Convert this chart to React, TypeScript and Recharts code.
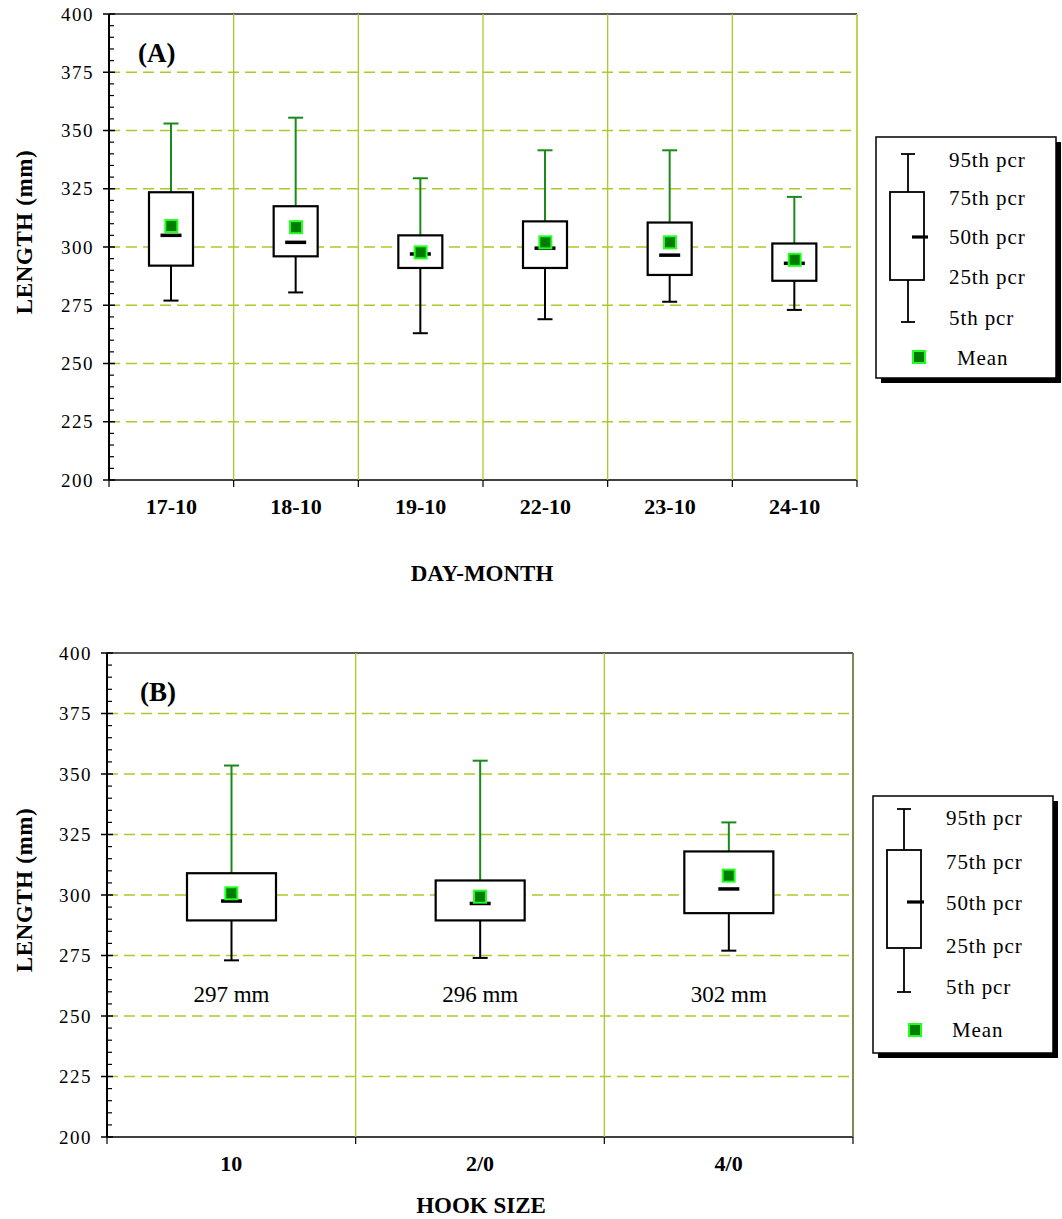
import React from 'react';
import {
  ComposedChart,
  Bar,
  Scatter,
  XAxis,
  YAxis,
  CartesianGrid,
  ReferenceLine,
} from 'recharts';

// ---------- Panel A: by day-month ----------
const DATES = ['17-10', '18-10', '19-10', '22-10', '23-10', '24-10'];
const A_P5 = [277, 280.5, 263, 269, 276.5, 273];
const A_Q1 = [292, 296, 291, 291, 288, 285.5];
const A_MEDIAN = [305, 302, 297, 299.5, 296.5, 293];
const A_Q3 = [323.5, 317.5, 305, 311, 310.5, 301.5];
const A_P95 = [353, 355.5, 329.5, 341.5, 341.5, 321.5];
const A_MEAN = [309, 308.5, 297.7, 302, 302, 294.5];

// ---------- Panel B: by hook size ----------
const HOOKS = ['10', '2/0', '4/0'];
const B_P5 = [273, 274, 277];
const B_Q1 = [289.5, 289.5, 292.5];
const B_MEDIAN = [297.5, 296.5, 302.5];
const B_Q3 = [309, 306, 318];
const B_P95 = [353.5, 355.5, 330];
const B_MEAN = [300.7, 299.3, 308];
const B_MEDIAN_LABELS = ['297 mm', '296 mm', '302 mm'];

// ---------- Axis ticks ----------
const Y_DOMAIN: [number, number] = [200, 400];
const Y_MAJOR = [200, 225, 250, 275, 300, 325, 350, 375, 400];
const Y_GRID = [225, 250, 275, 300, 325, 350, 375];
const Y_MINOR_STEP = 5;

const LEGEND_LABELS = ['95th pcr', '75th pcr', '50th pcr', '25th pcr', '5th pcr', 'Mean'];

const SERIF = '"Liberation Serif", "Times New Roman", Times, serif';
const WHISKER_UP = '#1a8a1a';
const GRID_COLOR = '#a8cc2a';
const MEAN_FILL = '#007c00';
const MEAN_EDGE = '#22ff22';

const Y_TICKS: number[] = [];
for (let v = Y_DOMAIN[0]; v <= Y_DOMAIN[1]; v += Y_MINOR_STEP) Y_TICKS.push(v);

function buildRows(
  names: string[],
  p5: number[],
  q1: number[],
  med: number[],
  q3: number[],
  p95: number[],
  mean: number[],
  labels?: string[]
) {
  return names.map((name, i) => ({
    name,
    p5: p5[i],
    q1: q1[i],
    med: med[i],
    q3: q3[i],
    p95: p95[i],
    mean: mean[i],
    label: labels ? labels[i] : undefined,
  }));
}

const rowsA = buildRows(DATES, A_P5, A_Q1, A_MEDIAN, A_Q3, A_P95, A_MEAN);
const rowsB = buildRows(HOOKS, B_P5, B_Q1, B_MEDIAN, B_Q3, B_P95, B_MEAN, B_MEDIAN_LABELS);

const makeBoxShape = (labelValue?: number) => (props: any) => {
  const { x, y, width, height, payload } = props;
  if (!payload || x == null || y == null) return null;
  const top = Math.min(y, y + height);
  const h = Math.abs(height);
  const span = payload.p95 - payload.p5;
  const ppu = span > 0 ? h / span : 0;
  const Y = (v: number) => top + (payload.p95 - v) * ppu;
  const cx = x + width / 2;
  const cap = 7.5;
  const medHalf = 10.5;
  return (
    <g>
      <line x1={cx} x2={cx} y1={Y(payload.p95)} y2={Y(payload.q3)} stroke={WHISKER_UP} strokeWidth={2} />
      <line x1={cx - cap} x2={cx + cap} y1={Y(payload.p95)} y2={Y(payload.p95)} stroke={WHISKER_UP} strokeWidth={2} />
      <line x1={cx} x2={cx} y1={Y(payload.q1)} y2={Y(payload.p5)} stroke="#000" strokeWidth={2} />
      <line x1={cx - cap} x2={cx + cap} y1={Y(payload.p5)} y2={Y(payload.p5)} stroke="#000" strokeWidth={2} />
      <rect
        x={x}
        y={Y(payload.q3)}
        width={width}
        height={Y(payload.q1) - Y(payload.q3)}
        fill="#fff"
        stroke="#000"
        strokeWidth={2.2}
      />
      <line x1={cx - medHalf} x2={cx + medHalf} y1={Y(payload.med)} y2={Y(payload.med)} stroke="#000" strokeWidth={3.5} />
      {labelValue != null && payload.label ? (
        <text
          x={cx}
          y={Y(labelValue)}
          textAnchor="middle"
          dominantBaseline="central"
          fontSize={23}
          fontFamily={SERIF}
          fill="#000"
        >
          {payload.label}
        </text>
      ) : null}
    </g>
  );
};

const MeanShape = (props: any) => {
  const { cx, cy } = props;
  if (cx == null || cy == null) return null;
  return <rect x={cx - 6} y={cy - 6} width={12} height={12} fill={MEAN_FILL} stroke={MEAN_EDGE} strokeWidth={2} />;
};

const YTick = (props: any) => {
  const { x, y, payload } = props;
  const v = payload.value;
  const major = v % 25 === 0;
  return (
    <g>
      {major ? (
        <line x1={x - 6} x2={x + 6} y1={y} y2={y} stroke="#000" strokeWidth={1.5} />
      ) : (
        <line x1={x} x2={x + 5} y1={y} y2={y} stroke="#000" strokeWidth={1.2} />
      )}
      {major ? (
        <text
          x={x - 15}
          y={y}
          textAnchor="end"
          dominantBaseline="central"
          fontSize={19}
          letterSpacing={1.5}
          fontFamily={SERIF}
          fill="#000"
        >
          {v}
        </text>
      ) : null}
    </g>
  );
};

const makeXTick = (count: number, bandFallback: number, plotHeight: number, rightBorder: string) => (props: any) => {
  const { x, y, payload, index } = props;
  const half =
    payload && typeof payload.offset === 'number' && payload.offset > 0 ? payload.offset : bandFallback / 2;
  return (
    <g>
      {index > 0 ? (
        <line x1={x - half} x2={x - half} y1={y} y2={y - plotHeight} stroke={GRID_COLOR} strokeWidth={1.3} />
      ) : null}
      {index === count - 1 ? (
        <line x1={x + half} x2={x + half} y1={y} y2={y - plotHeight} stroke={rightBorder} strokeWidth={1.6} />
      ) : null}
      <line x1={x - half} x2={x - half} y1={y} y2={y + 7} stroke="#000" strokeWidth={1.2} />
      {index === count - 1 ? (
        <line x1={x + half} x2={x + half} y1={y} y2={y + 7} stroke="#000" strokeWidth={1.2} />
      ) : null}
      <text
        x={x}
        y={y + 26}
        textAnchor="middle"
        dominantBaseline="central"
        fontSize={22}
        fontWeight="bold"
        fontFamily={SERIF}
        fill="#000"
      >
        {payload.value}
      </text>
    </g>
  );
};

type PanelProps = {
  rows: any[];
  top: number;
  width: number;
  height: number;
  margin: { top: number; right: number; bottom: number; left: number };
  yAxisWidth: number;
  xAxisHeight: number;
  barSize: number;
  labelValue?: number;
  rightBorder: string;
};

function BoxPanel(p: PanelProps) {
  const n = p.rows.length;
  const plotWidth = p.width - p.margin.left - p.margin.right - p.yAxisWidth;
  const plotHeight = p.height - p.margin.top - p.margin.bottom - p.xAxisHeight;
  const band = plotWidth / n;
  return (
    <div style={{ position: 'absolute', left: 0, top: p.top, width: p.width, height: p.height }}>
      <ComposedChart width={p.width} height={p.height} data={p.rows} margin={p.margin}>
        <CartesianGrid
          xAxisId="cat"
          vertical={false}
          horizontalValues={Y_GRID}
          stroke={GRID_COLOR}
          strokeWidth={1.4}
          strokeDasharray="11 6"
        />
        <XAxis
          xAxisId="cat"
          dataKey="name"
          type="category"
          interval={0}
          height={p.xAxisHeight}
          tickSize={0}
          tickMargin={0}
          tickLine={false}
          axisLine={{ stroke: '#000', strokeWidth: 1.6 }}
          tick={makeXTick(n, band, plotHeight, p.rightBorder)}
        />
        <YAxis
          type="number"
          domain={Y_DOMAIN}
          ticks={Y_TICKS}
          interval={0}
          width={p.yAxisWidth}
          tickSize={0}
          tickMargin={0}
          tickLine={false}
          axisLine={{ stroke: '#000', strokeWidth: 2 }}
          tick={<YTick />}
        />
        <ReferenceLine xAxisId="cat" y={Y_DOMAIN[1]} stroke="#222" strokeWidth={1.6} />
        <Bar
          xAxisId="cat"
          dataKey={(d: any) => [d.p5, d.p95]}
          barSize={p.barSize}
          shape={makeBoxShape(p.labelValue)}
          isAnimationActive={false}
        />
        <Scatter xAxisId="cat" dataKey="mean" shape={MeanShape} isAnimationActive={false} />
      </ComposedChart>
    </div>
  );
}

type LegendCfg = {
  x: number;
  y: number;
  w: number;
  h: number;
  whiskerX: number;
  capTop: number;
  boxTop: number;
  boxBottom: number;
  boxLeft: number;
  boxRight: number;
  medY: number;
  medX1: number;
  medX2: number;
  capBottom: number;
  meanCx: number;
  meanCy: number;
  textX: number;
  meanTextX: number;
  rowsY: number[];
};

function LegendBox({ c }: { c: LegendCfg }) {
  const capHalf = 7;
  return (
    <g>
      <rect x={c.x + 5} y={c.y + 5} width={c.w} height={c.h} fill="#000" />
      <rect x={c.x} y={c.y} width={c.w} height={c.h} fill="#fff" stroke="#000" strokeWidth={1.5} />
      <line x1={c.whiskerX} x2={c.whiskerX} y1={c.capTop} y2={c.boxTop} stroke="#000" strokeWidth={1.8} />
      <line x1={c.whiskerX - capHalf} x2={c.whiskerX + capHalf} y1={c.capTop} y2={c.capTop} stroke="#000" strokeWidth={1.8} />
      <rect
        x={c.boxLeft}
        y={c.boxTop}
        width={c.boxRight - c.boxLeft}
        height={c.boxBottom - c.boxTop}
        fill="#fff"
        stroke="#000"
        strokeWidth={1.8}
      />
      <line x1={c.medX1} x2={c.medX2} y1={c.medY} y2={c.medY} stroke="#000" strokeWidth={3.2} />
      <line x1={c.whiskerX} x2={c.whiskerX} y1={c.boxBottom} y2={c.capBottom} stroke="#000" strokeWidth={1.8} />
      <line
        x1={c.whiskerX - capHalf}
        x2={c.whiskerX + capHalf}
        y1={c.capBottom}
        y2={c.capBottom}
        stroke="#000"
        strokeWidth={1.8}
      />
      <rect x={c.meanCx - 6} y={c.meanCy - 6} width={12} height={12} fill={MEAN_FILL} stroke={MEAN_EDGE} strokeWidth={2} />
      {LEGEND_LABELS.map((t, i) => (
        <text
          key={t}
          x={i === LEGEND_LABELS.length - 1 ? c.meanTextX : c.textX}
          y={c.rowsY[i]}
          dominantBaseline="central"
          fontSize={21}
          letterSpacing={0.9}
          fontFamily={SERIF}
          fill="#000"
        >
          {t}
        </text>
      ))}
    </g>
  );
}

const legendA: LegendCfg = {
  x: 876,
  y: 137,
  w: 180,
  h: 241,
  whiskerX: 908,
  capTop: 154,
  boxTop: 192,
  boxBottom: 280,
  boxLeft: 890,
  boxRight: 924,
  medY: 237,
  medX1: 912,
  medX2: 928,
  capBottom: 322,
  meanCx: 919,
  meanCy: 357,
  textX: 949,
  meanTextX: 957,
  rowsY: [160, 198, 237, 277, 318, 358],
};

const legendB: LegendCfg = {
  x: 873,
  y: 796,
  w: 180,
  h: 257,
  whiskerX: 904,
  capTop: 809,
  boxTop: 850,
  boxBottom: 948,
  boxLeft: 887,
  boxRight: 921,
  medY: 902,
  medX1: 907,
  medX2: 924,
  capBottom: 992,
  meanCx: 915,
  meanCy: 1030,
  textX: 946,
  meanTextX: 952,
  rowsY: [818, 862, 903, 946, 987, 1030],
};

export default function App() {
  return (
    <div
      style={{
        position: 'absolute',
        left: 0,
        top: 0,
        width: 1062,
        height: 1219,
        background: '#fff',
        fontFamily: SERIF,
        overflow: 'hidden',
      }}
    >
      <BoxPanel
        rows={rowsA}
        top={0}
        width={870}
        height={560}
        margin={{ top: 14, right: 13, bottom: 40, left: 0 }}
        yAxisWidth={109}
        xAxisHeight={40}
        barSize={44}
        rightBorder={GRID_COLOR}
      />
      <BoxPanel
        rows={rowsB}
        top={639}
        width={870}
        height={560}
        margin={{ top: 14, right: 17, bottom: 22, left: 0 }}
        yAxisWidth={107}
        xAxisHeight={40}
        barSize={89}
        labelValue={259}
        rightBorder="#5d6b2a"
      />
      <svg
        width={1062}
        height={1219}
        style={{ position: 'absolute', left: 0, top: 0, pointerEvents: 'none' }}
      >
        <text x={138} y={53} dominantBaseline="central" fontSize={27} fontWeight="bold" fontFamily={SERIF}>
          (A)
        </text>
        <text x={140} y={692} dominantBaseline="central" fontSize={27} fontWeight="bold" fontFamily={SERIF}>
          (B)
        </text>
        <text
          transform="translate(24,232) rotate(-90)"
          textAnchor="middle"
          dominantBaseline="central"
          fontSize={23}
          fontWeight="bold"
          letterSpacing={0.6}
          fontFamily={SERIF}
        >
          LENGTH (mm)
        </text>
        <text
          transform="translate(24,890) rotate(-90)"
          textAnchor="middle"
          dominantBaseline="central"
          fontSize={23}
          fontWeight="bold"
          letterSpacing={0.6}
          fontFamily={SERIF}
        >
          LENGTH (mm)
        </text>
        <text x={482} y={573} textAnchor="middle" dominantBaseline="central" fontSize={23} fontWeight="bold" fontFamily={SERIF}>
          DAY-MONTH
        </text>
        <text x={481} y={1205} textAnchor="middle" dominantBaseline="central" fontSize={23} fontWeight="bold" fontFamily={SERIF}>
          HOOK SIZE
        </text>
        <LegendBox c={legendA} />
        <LegendBox c={legendB} />
      </svg>
    </div>
  );
}
